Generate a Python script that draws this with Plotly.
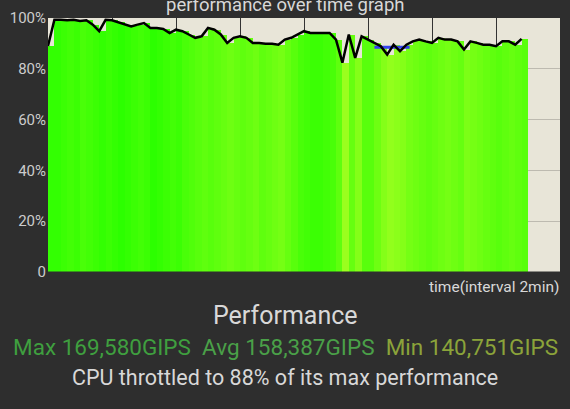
import plotly.graph_objects as go

# samples every 0.1 grid interval
perf = [89.0, 99.3, 99.3, 99.1, 99.3, 98.8, 99.1, 97.4, 94.8, 99.3,
        99.1, 98.3, 97.4, 96.7, 97.4, 98.0, 96.1, 96.1, 95.7, 94.1,
        95.4, 94.8, 93.5, 92.2, 92.8, 96.1, 95.4, 93.5, 90.2, 92.2,
        92.8, 92.2, 90.2, 90.2, 89.9, 89.9, 89.5, 91.5, 92.2, 93.5,
        94.8, 94.1, 94.1, 94.1, 94.1, 91.5, 82.4, 93.5, 84.3, 92.8,
        91.5, 90.2, 88.9, 85.6, 89.5, 86.9, 89.5, 90.8, 91.5, 90.8,
        90.2, 92.2, 91.5, 91.5, 90.8, 87.6, 90.8, 90.2, 89.5, 89.5,
        88.9, 90.8, 90.8, 89.5, 91.8]
# 0 = pure green, 1 = yellow-green
shade = [0.05, 0.05, 0.1, 0.15, 0.1, 0.2, 0.15, 0.1, 0.05, 0.1,
         0.05, 0.0, 0.05, 0.1, 0.15, 0.1, 0.0, 0.05, 0.1, 0.15,
         0.1, 0.2, 0.25, 0.3, 0.35, 0.3, 0.35, 0.4, 0.45, 0.4,
         0.35, 0.4, 0.45, 0.35, 0.4, 0.45, 0.5, 0.4, 0.3, 0.2,
         0.15, 0.1, 0.1, 0.15, 0.2, 0.35, 0.75, 0.4, 0.6, 0.3,
         0.3, 0.45, 0.6, 0.7, 0.65, 0.6, 0.5, 0.45, 0.4, 0.35,
         0.4, 0.45, 0.5, 0.45, 0.4, 0.55, 0.5, 0.45, 0.4, 0.35,
         0.3, 0.35, 0.4, 0.35, 0.3]
throttle_x = [5.1, 5.65]
throttle_y = [88.5, 88.5]
xs = [i * 0.1 for i in range(len(perf))]


def mix(t):
    a, b = (44, 255, 0), (190, 255, 40)
    return "rgb(%d,%d,%d)" % tuple(round(a[k] + (b[k] - a[k]) * t) for k in range(3))


fig = go.Figure()
fig.add_trace(go.Bar(x=[x + 0.05 for x in xs], y=perf, width=0.1,
                     marker=dict(color=[mix(s) for s in shade], line_width=0)))
fig.add_trace(go.Scatter(x=throttle_x, y=throttle_y, mode="lines",
                         line=dict(color="#3344ee", width=3)))
fig.add_trace(go.Scatter(x=xs, y=perf, mode="lines",
                         line=dict(color="black", width=2.5)))
fig.update_layout(
    width=570, height=409, showlegend=False, bargap=0,
    paper_bgcolor="#2e2e2e", plot_bgcolor="#e8e5d8",
    margin=dict(l=48, r=10, t=18, b=137, autoexpand=False),
    font=dict(family="Roboto", color="#d8d8d8"),
)
fig.update_xaxes(range=[0, 8], dtick=1, showticklabels=False, automargin=False,
                 showgrid=True, gridcolor="#333333", gridwidth=1, zeroline=False)
fig.update_yaxes(range=[0, 100], tickvals=[0, 20, 40, 60, 80, 100],
                 ticktext=["0", "20%", "40%", "60%", "80%", "100%"], automargin=False,
                 tickfont=dict(size=15, color="#cccccc"), ticks="", ticklabelstandoff=1,
                 showgrid=True, gridcolor="#bdbab0", zeroline=False)
fig.add_shape(type="line", xref="paper", yref="paper", x0=0, x1=1, y0=0, y1=0,
              line=dict(color="#2e2e2e", width=1))
notes = [
    ("performance over time graph", 0.5, 5, 18.5, "#d8d8d8", "center"),
    ("time(interval 2min)", 1.0, 287, 15.5, "#d8d8d8", "right"),
    ("Performance", 0.5, 315, 25, "#d8d8d8", "center"),
    ("<span style='color:#3f9f3f'>Max 169,580GIPS</span>  "
     "<span style='color:#4aa048'>Avg 158,387GIPS</span>  "
     "<span style='color:#8ba33a'>Min 140,751GIPS</span>", 0.5, 347, 22.5, "#4aa048", "center"),
    ("CPU throttled to 88% of its max performance", 0.5, 377, 21.5, "#d8d8d8", "center"),
]
for text, x, ypx, size, col, anchor in notes:
    fig.add_annotation(text=text, xref="paper", yref="paper", x=x, xanchor=anchor,
                       xshift=(-19 if anchor == "center" else 0),
                       y=(409 - 137 - ypx) / 254, yanchor="middle", borderpad=0,
                       showarrow=False, font=dict(size=size, color=col))
fig.write_html("out.html", config={"displayModeBar": False},
               post_script="document.body.style.margin='0';")
